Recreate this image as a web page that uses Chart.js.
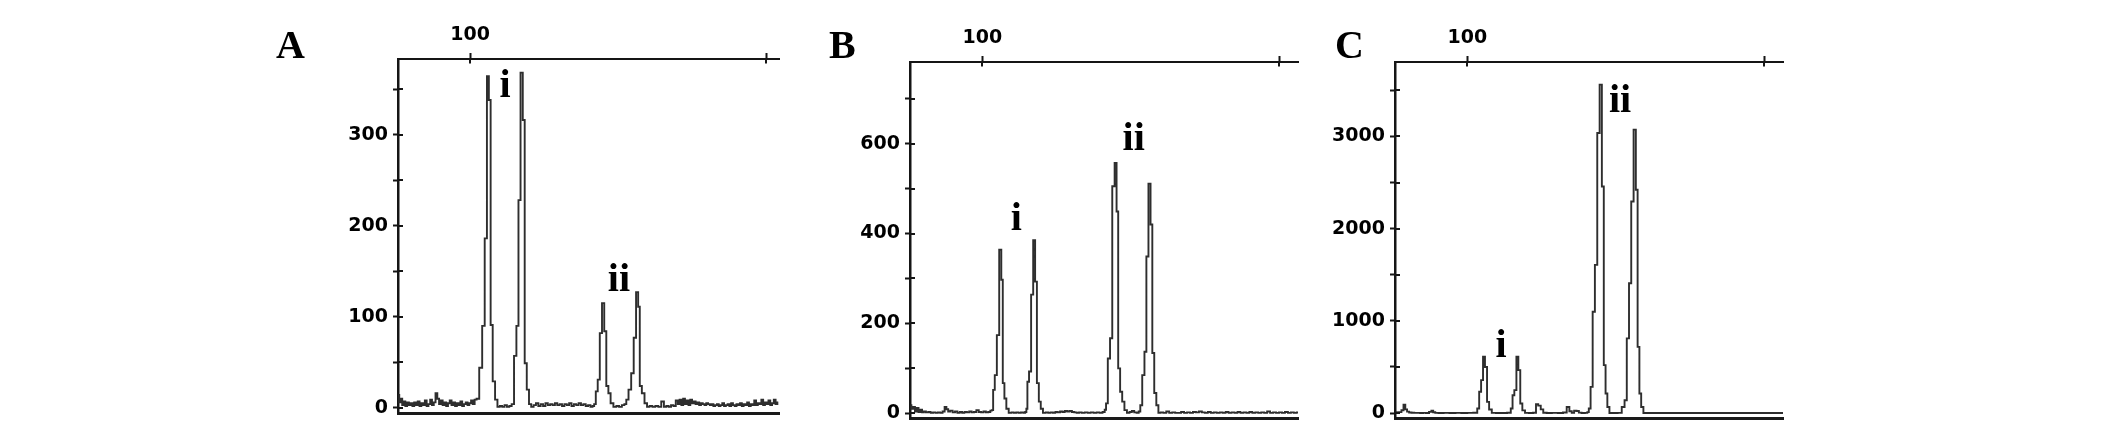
<!DOCTYPE html>
<html>
<head>
<meta charset="utf-8">
<script src="https://cdn.jsdelivr.net/npm/chart.js@4.4.1/dist/chart.umd.min.js"></script>
<style>
  html, body { margin: 0; padding: 0; background: #ffffff; }
  body { width: 2126px; height: 442px; position: relative; overflow: hidden; }
  canvas { position: absolute; top: 0; }
</style>
</head>
<body>
<canvas id="cA" width="530" height="442" style="left:260px"></canvas>
<canvas id="cB" width="510" height="442" style="left:800px"></canvas>
<canvas id="cC" width="490" height="442" style="left:1310px"></canvas>
<script>
// ---------- DATA (size in bp, signal in RFU) ----------
// Panel A trace
const aX = [75.8,76.3,76.8,77.3,77.8,78.4,79.0,79.6,80.2,80.8,81.4,82.0,82.6,83.2,83.8,84.4,85.0,85.6,86.2,86.8,87.4,88.0,88.6,89.2,89.8,90.4,91.0,91.6,92.2,92.8,93.4,94.0,94.6,95.2,95.8,96.4,97.0,97.6,98.2,98.8,99.4,100.0,100.6,101.2,101.8,102.5,
  103.6,104.5,105.3,106.0,106.6,107.2,108.0,108.8,109.6,
  110.4,111.2,112.0,112.8,113.6,114.4,
  115.2,116.0,116.6,117.4,118.1,118.7,119.5,120.2,121.0,
  121.8,122.6,123.4,124.2,125.0,125.8,126.6,127.4,128.2,129.0,129.8,130.6,131.4,132.2,133.0,133.8,134.6,135.4,136.2,137.0,137.8,138.6,139.4,140.2,141.0,141.6,
  142.1,142.7,143.4,144.1,144.9,145.6,146.3,147.0,147.8,148.9,149.8,150.7,151.7,152.4,
  153.0,153.9,154.8,155.6,156.4,157.0,157.5,158.4,159.3,160.1,
  161.0,162.0,163.0,164.0,165.0,165.8,166.6,167.4,168.2,169.0,169.8,170.4,171.0,171.6,172.2,172.8,173.4,174.0,174.6,175.2,175.8,176.4,177.0,177.6,178.2,178.8,179.4,180.0,180.6,181.2,181.8,182.4,183.0,183.6,184.2,184.8,185.4,186.0,186.6,187.2,187.8,188.4,189.0,189.6,190.2,190.8,191.4,192.0,192.6,193.2,193.8,194.4,195.0,195.6,196.2,196.8,197.4,198.0,198.6,199.2,199.8,200.4,201.0,201.6,202.2,202.8,203.4,204.0];
const aY = [14,6,10,3,7,2,6,3,5,2,6,3,7,2,5,3,8,2,4,9,3,6,16,10,4,8,3,6,2,5,8,3,6,2,5,3,7,2,4,6,3,5,8,4,9,10,
  44,90,186,364,338,91,29,9,1,
  2,1,3,1,2,4,
  57,90,228,368,316,49,20,4,1,
  3,5,2,4,2,5,3,4,3,5,3,4,2,4,3,5,2,4,3,5,3,4,2,3,1,2,
  4,18,31,82,115,84,24,16,5,1,2,1,3,4,
  9,20,38,77,127,111,24,16,5,1,
  2,1,2,1,7,1,2,1,3,2,8,4,9,3,10,4,8,3,9,5,7,4,6,3,5,4,3,5,4,3,4,2,3,4,2,3,5,2,3,4,2,5,3,2,4,3,5,2,4,3,6,2,4,3,8,3,5,4,9,3,6,4,8,3,5,9,4,6];

// Panel B trace
const bX = [75.8,76.4,77.0,77.6,78.2,78.8,79.4,80.0,80.6,81.4,82.2,83.0,83.8,84.6,85.4,86.2,87.0,87.6,88.2,88.8,89.6,90.4,91.2,92.0,92.8,93.6,94.4,95.2,96.0,96.8,97.6,98.4,99.2,100.0,100.8,101.6,102.4,103.0,
  103.4,103.9,104.5,105.3,106.1,106.7,107.1,107.8,108.4,109.4,
  110.2,111.0,111.8,112.6,113.4,114.2,114.7,
  115.0,115.4,116.1,116.8,117.5,118.1,118.7,119.4,120.0,120.9,
  121.8,122.6,123.4,124.2,125.0,125.8,126.6,127.4,128.2,129.0,129.8,130.6,131.4,132.2,133.0,134.0,135.0,136.0,137.0,138.0,139.0,140.0,141.0,141.5,
  141.9,142.7,143.4,144.2,145.0,145.5,146.1,146.8,147.5,148.3,149.2,150.0,150.8,151.6,152.4,153.0,
  153.5,154.3,155.0,155.6,156.4,157.0,157.6,158.3,159.0,159.7,
  160.5,161.5,162.5,163.5,164.5,165.5,166.5,167.5,168.5,169.5,170.5,171.5,172.5,173.5,174.5,175.5,176.5,177.5,178.5,179.5,180.5,181.5,182.5,183.5,184.5,185.5,186.5,187.5,188.5,189.5,190.5,191.5,192.5,193.5,194.5,195.5,196.5,197.5,198.5,199.5,200.5,201.5,202.5,203.5,204.5,205.5,206.4];
const bY = [18,10,14,4,12,3,8,2,4,2,3,1,2,1,2,1,4,14,9,4,6,2,4,1,3,1,3,2,4,2,3,7,3,2,4,2,3,6,
  7,52,85,174,364,297,67,33,10,1,
  2,1,2,1,2,1,3,
  10,70,93,264,385,293,67,26,10,1,
  2,1,2,1,3,2,4,3,5,4,5,3,2,1,2,1,2,1,2,1,2,1,3,8,
  22,122,167,505,557,449,100,48,26,7,1,3,5,2,1,4,
  18,85,137,349,511,420,134,45,18,1,
  2,1,4,1,2,1,1,3,1,2,1,3,2,4,2,1,3,1,2,1,2,1,3,1,2,1,3,1,2,1,3,1,2,1,2,1,4,1,2,1,2,1,3,1,2,1,2];

// Panel C trace
const cX = [75.8,76.6,77.4,78.2,78.8,79.4,80.0,80.8,81.6,82.6,83.6,84.6,85.6,86.6,87.6,88.2,88.8,89.6,91.0,93.0,95.0,97.0,99.0,101.0,103.0,
  103.7,104.3,105.0,105.6,106.3,107.0,107.7,108.8,110.5,112.5,114.3,
  115.0,115.5,116.2,116.9,117.5,118.2,118.9,120.0,121.5,122.8,
  123.5,124.3,125.2,126.0,127.5,129.5,131.5,133.0,134.0,134.8,135.6,136.4,137.2,138.0,139.0,140.2,140.7,
  141.2,141.9,142.6,143.4,144.2,145.0,145.7,146.3,146.9,147.5,148.3,149.8,151.5,
  152.6,153.4,154.1,154.9,155.6,156.5,157.1,157.7,158.3,158.9,159.8,
  161.0,170.0,180.0,190.0,200.0,206.4];
const cY = [10,5,10,30,90,40,15,5,3,2,2,1,2,1,12,25,8,2,1,2,1,2,1,2,3,
  49,230,357,610,500,121,38,2,1,1,3,
  49,193,248,610,465,103,29,2,1,3,
  95,80,40,3,1,2,1,5,66,20,3,25,22,4,1,2,10,
  49,284,1099,1607,3038,3563,2458,520,212,66,1,1,2,
  66,139,810,1407,2295,3074,2422,718,212,66,1,
  0,0,0,0,0,0];

// Axis ticks and labels
const xTicks = [100, 200];
const xTickLabels = ['100', ''];
const aYTicks = [0, 50, 100, 150, 200, 250, 300, 350];
const aYLabels = [0, 100, 200, 300];
const bYTicks = [0, 100, 200, 300, 400, 500, 600, 700];
const bYLabels = [0, 200, 400, 600];
const cYTicks = [0, 500, 1000, 1500, 2000, 2500, 3000, 3500];
const cYLabels = [0, 1000, 2000, 3000];

// Peak annotations
const aNotes = ['i', 'ii'];  const aNoteX = [111.8, 150.2]; const aNoteY = [341, 128];
const bNotes = ['i', 'ii'];  const bNoteX = [111.5, 151.0]; const bNoteY = [408, 585];
const cNotes = ['i', 'ii'];  const cNoteX = [111.4, 151.5]; const cNoteY = [605, 3265];

// ---------- RENDERING ----------
const AXIS = '#151515';
const TICKFONT = { family: 'DejaVu Sans', size: 19, weight: 'bold' };

const crossTicks = {
  id: 'crossTicks',
  afterDraw(chart) {
    const ctx = chart.ctx, a = chart.chartArea;
    ctx.save();
    ctx.strokeStyle = AXIS;
    ctx.lineWidth = 2;
    ctx.beginPath();
    const xs = chart.scales.x;
    xs.ticks.forEach(t => {
      const p = Math.round(xs.getPixelForValue(t.value));
      ctx.moveTo(p, a.top); ctx.lineTo(p, a.top + 4.5);
    });
    const ys = chart.scales.y;
    ys.ticks.forEach(t => {
      const p = Math.round(ys.getPixelForValue(t.value));
      ctx.moveTo(a.left, p); ctx.lineTo(a.left + 5, p);
    });
    ctx.stroke();
    ctx.restore();
  }
};

const notesPlugin = {
  id: 'notes',
  afterDraw(chart, args, opts) {
    const ctx = chart.ctx;
    ctx.save();
    ctx.fillStyle = '#000';
    ctx.font = 'bold 40px "Liberation Serif"';
    ctx.textBaseline = 'alphabetic';
    ctx.textAlign = 'left';
    ctx.fillText(opts.letter, opts.letterX, 58);
    ctx.textAlign = 'center';
    opts.texts.forEach((t, i) => {
      ctx.fillText(t, chart.scales.x.getPixelForValue(opts.xs[i]), chart.scales.y.getPixelForValue(opts.ys[i]));
    });
    ctx.restore();
  }
};

function panel(id, p) {
  const canvas = document.getElementById(id);
  const W = canvas.width;
  new Chart(canvas, {
    type: 'line',
    data: {
      datasets: [{
        data: p.xs.map((x, i) => ({ x: x, y: p.ys[i] })),
        stepped: 'middle',
        borderColor: '#2e2e2e',
        borderWidth: 1.9,
        pointRadius: 0,
        fill: false
      }]
    },
    options: {
      responsive: false,
      animation: false,
      devicePixelRatio: 1,
      layout: { autoPadding: false, padding: { left: 0, top: 0, right: W - (p.right - p.cLeft), bottom: 442 - p.bottom } },
      plugins: {
        legend: { display: false },
        tooltip: { enabled: false },
        notes: { letter: p.letter, letterX: p.letterX, texts: p.notes, xs: p.noteX, ys: p.noteY }
      },
      scales: {
        x: {
          type: 'linear', position: 'top', min: p.xMin, max: p.xMax,
          afterBuildTicks: s => { s.ticks = xTicks.map(v => ({ value: v })); },
          afterFit: s => { s.height = p.top; },
          ticks: {
            autoSkip: false, maxRotation: 0, padding: 7, color: '#000', font: TICKFONT,
            callback: v => { const k = xTicks.indexOf(v); return k >= 0 ? xTickLabels[k] : ''; }
          },
          grid: { drawOnChartArea: false, drawTicks: true, tickLength: 6, tickWidth: 2, tickColor: AXIS },
          border: { display: true, color: AXIS, width: 2 }
        },
        x2: {
          type: 'linear', position: 'bottom', min: p.xMin, max: p.xMax,
          afterFit: s => { s.height = 0; },
          ticks: { display: false },
          grid: { display: false },
          border: { display: true, color: '#1a1a1a', width: 3 }
        },
        y: {
          type: 'linear', position: 'left', min: p.yMin, max: p.yMax,
          afterBuildTicks: s => { s.ticks = p.yTicks.map(v => ({ value: v })); },
          afterFit: s => { s.width = p.left - p.cLeft; },
          ticks: {
            autoSkip: false, padding: 5, color: '#000', font: TICKFONT,
            callback: v => (p.yLabels.indexOf(v) >= 0 ? String(v) : '')
          },
          grid: { drawOnChartArea: false, drawTicks: true, tickLength: 5, tickWidth: 2, tickColor: AXIS },
          border: { display: true, color: AXIS, width: 2.5 }
        }
      }
    },
    plugins: [crossTicks, notesPlugin]
  });
}

panel('cA', { cLeft: 260, left: 398, right: 779, top: 59, bottom: 413,
  xMin: 75.63, xMax: 204.25, yMin: -5.7, yMax: 383,
  xs: aX, ys: aY, yTicks: aYTicks, yLabels: aYLabels,
  letter: 'A', letterX: 16, notes: aNotes, noteX: aNoteX, noteY: aNoteY });
panel('cB', { cLeft: 800, left: 910, right: 1298, top: 62, bottom: 418,
  xMin: 75.63, xMax: 206.4, yMin: -10.5, yMax: 781.6,
  xs: bX, ys: bY, yTicks: bYTicks, yLabels: bYLabels,
  letter: 'B', letterX: 29, notes: bNotes, noteX: bNoteX, noteY: bNoteY });
panel('cC', { cLeft: 1310, left: 1395, right: 1783, top: 62, bottom: 418,
  xMin: 75.63, xMax: 206.4, yMin: -54, yMax: 3808,
  xs: cX, ys: cY, yTicks: cYTicks, yLabels: cYLabels,
  letter: 'C', letterX: 25, notes: cNotes, noteX: cNoteX, noteY: cNoteY });
</script>
</body>
</html>
